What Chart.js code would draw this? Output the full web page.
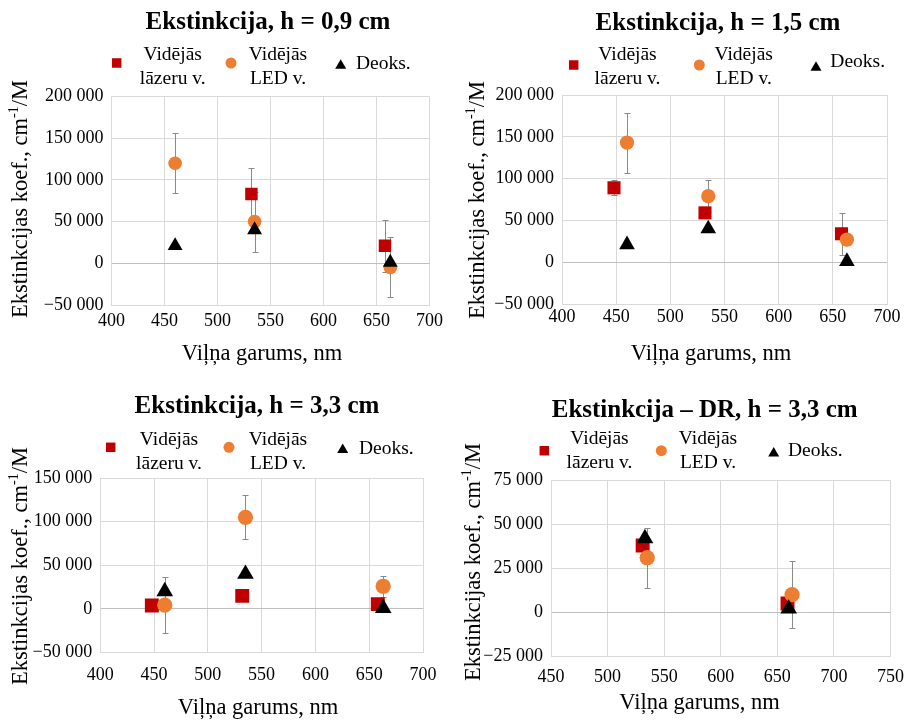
<!DOCTYPE html>
<html>
<head>
<meta charset="utf-8">
<script src="https://cdn.jsdelivr.net/npm/chart.js@4/dist/chart.umd.min.js"></script>
<style>
  html, body { margin: 0; padding: 0; background: #fff; }
  #wrap { position: relative; width: 914px; height: 720px; overflow: hidden; background: #fff; }
  #wrap canvas { position: absolute; }
</style>
</head>
<body>
<div id="wrap">
  <canvas id="p1" width="457" height="372" style="left:0;top:0"></canvas>
  <canvas id="p2" width="457" height="372" style="left:457px;top:0"></canvas>
  <canvas id="p3" width="457" height="348" style="left:0;top:372px"></canvas>
  <canvas id="p4" width="457" height="348" style="left:457px;top:372px"></canvas>
</div>
<script>
// ---- Labels ----
const panelTitles = [
  'Ekstinkcija, h = 0,9 cm',
  'Ekstinkcija, h = 1,5 cm',
  'Ekstinkcija, h = 3,3 cm',
  'Ekstinkcija – DR, h = 3,3 cm'
];
const legendLaser = ['Vidējās', 'lāzeru v.'];
const legendLed = ['Vidējās', 'LED v.'];
const legendDeoks = ['Deoks.'];
const xAxisTitle = 'Viļņa garums, nm';
const yAxisTitle = ['Ekstinkcijas koef., cm', '-1', '/M'];

// ---- h = 0,9 cm ----
const laserX09 = [532, 658];
const laserY09 = [83000, 21000];
const laserErr09 = [31000, 31000];
const ledX09 = [460, 535, 663];
const ledY09 = [120000, 50000, -5000];
const ledErr09 = [36000, 36000, 36000];
const deoksX09 = [460, 535, 663];
const deoksY09 = [21000, 40000, 1000];
const xTicks09 = [400, 450, 500, 550, 600, 650, 700];
const yTicks09 = [-50000, 0, 50000, 100000, 150000, 200000];

// ---- h = 1,5 cm ----
const laserX15 = [448, 532, 658];
const laserY15 = [89000, 59000, 34000];
const laserErr15 = [9000, 5000, 25000];
const ledX15 = [460, 535, 663];
const ledY15 = [143000, 79000, 27000];
const ledErr15 = [36000, 19000, 7000];
const deoksX15 = [460, 535, 663];
const deoksY15 = [21000, 40000, 1000];
const xTicks15 = [400, 450, 500, 550, 600, 650, 700];
const yTicks15 = [-50000, 0, 50000, 100000, 150000, 200000];

// ---- h = 3,3 cm ----
const laserX33 = [448, 532, 658];
const laserY33 = [4000, 15000, 5500];
const laserErr33 = [3000, 3000, 3000];
const ledX33 = [460, 535, 663];
const ledY33 = [4500, 105000, 26000];
const ledErr33 = [32000, 25000, 12000];
const deoksX33 = [460, 535, 663];
const deoksY33 = [20000, 40000, 1000];
const xTicks33 = [400, 450, 500, 550, 600, 650, 700];
const yTicks33 = [-50000, 0, 50000, 100000, 150000];

// ---- DR, h = 3,3 cm ----
const laserXDR = [531, 659];
const laserYDR = [38000, 5000];
const laserErrDR = [3000, 3000];
const ledXDR = [535, 663];
const ledYDR = [31000, 10000];
const ledErrDR = [17000, 19000];
const deoksXDR = [533, 660];
const deoksYDR = [42000, 2000];
const xTicksDR = [450, 500, 550, 600, 650, 700, 750];
const yTicksDR = [-25000, 0, 25000, 50000, 75000];

// ---- Styling ----
const COLORS = { laser: '#c00000', led: '#ed7d31', deoks: '#000000', grid: '#d9d9d9', zero: '#bfbfbf', err: '#8a8a8a', text: '#000000' };
const SERIF = '"Liberation Serif", "Times New Roman", serif';
Chart.defaults.font.family = SERIF;
Chart.defaults.color = COLORS.text;

function pts(xs, ys) { return xs.map((x, i) => ({ x: x, y: ys[i] })); }

function fmtThousands(v) {
  const s = Math.abs(v).toString().replace(/\B(?=(\d{3})+(?!\d))/g, ' ');
  return (v < 0 ? '\u2212' : '') + s;
}

// Vertical error bars with short caps, drawn under the markers
const errorBarPlugin = {
  id: 'errorBars',
  beforeDatasetsDraw(chart) {
    const { ctx } = chart;
    const xs = chart.scales.x, ys = chart.scales.y;
    ctx.save();
    ctx.strokeStyle = COLORS.err;
    ctx.lineWidth = 1;
    chart.data.datasets.forEach(ds => {
      if (!ds.errors) return;
      ds.data.forEach((p, i) => {
        const e = ds.errors[i];
        if (!e) return;
        const px = Math.round(xs.getPixelForValue(p.x)) + 0.5;
        const top = Math.round(ys.getPixelForValue(p.y + e)) + 0.5;
        const bot = Math.round(ys.getPixelForValue(p.y - e)) + 0.5;
        ctx.beginPath();
        ctx.moveTo(px, top); ctx.lineTo(px, bot);
        ctx.moveTo(px - 3, top); ctx.lineTo(px + 3, top);
        ctx.moveTo(px - 3, bot); ctx.lineTo(px + 3, bot);
        ctx.stroke();
      });
    });
    ctx.restore();
  }
};

function marker(ctx, style, x, y, size, color) {
  ctx.fillStyle = color;
  ctx.beginPath();
  if (style === 'rect') {
    ctx.rect(x - size / 2, y - size / 2, size, size);
  } else if (style === 'circle') {
    ctx.arc(x, y, size / 2, 0, Math.PI * 2);
  } else {
    const h = size * 0.87;
    ctx.moveTo(x, y - h / 2);
    ctx.lineTo(x + size / 2, y + h / 2);
    ctx.lineTo(x - size / 2, y + h / 2);
    ctx.closePath();
  }
  ctx.fill();
}

// Panel heading, legend and axis titles
const decorPlugin = {
  id: 'decor',
  afterDraw(chart, args, o) {
    const { ctx } = chart;
    const ox = o.ox, oy = o.oy;
    ctx.save();
    ctx.fillStyle = COLORS.text;
    ctx.textBaseline = 'middle';

    // heading
    ctx.font = 'bold 25px ' + SERIF;
    ctx.textAlign = 'center';
    ctx.fillText(o.title, o.titleX - ox, o.titleY - oy);

    // legend
    const L = o.legend;
    ctx.font = '19.5px ' + SERIF;
    marker(ctx, 'rect', L.sqX - ox, L.mY - oy, 9.5, COLORS.laser);
    marker(ctx, 'circle', L.ciX - ox, L.mY - oy, 11, COLORS.led);
    marker(ctx, 'tri', L.trX - ox, L.mY + 1 - oy, 11, COLORS.deoks);
    ctx.fillStyle = COLORS.text;
    ctx.textAlign = 'center';
    ctx.fillText(legendLaser[0], L.t1X - ox, L.row1 - oy);
    ctx.fillText(legendLaser[1], L.t1X - ox, L.row2 - oy);
    ctx.fillText(legendLed[0], L.t2X - ox, L.row1 - oy);
    ctx.fillText(legendLed[1], L.t2X - ox, L.row2 - oy);
    ctx.textAlign = 'left';
    ctx.fillText(legendDeoks[0], L.t3X - ox, L.t3Y - oy);

    // x axis title
    ctx.font = '22.5px ' + SERIF;
    ctx.textAlign = 'center';
    ctx.fillText(xAxisTitle, o.xTitleX - ox, o.xTitleY - oy);

    // y axis title with superscript
    const big = '22.5px ' + SERIF, small = '14px ' + SERIF;
    ctx.font = big; const w1 = ctx.measureText(yAxisTitle[0]).width;
    ctx.font = small; const w2 = ctx.measureText(yAxisTitle[1]).width;
    ctx.font = big; const w3 = ctx.measureText(yAxisTitle[2]).width;
    const total = w1 + w2 + w3;
    ctx.translate(o.yTitleX - ox, o.yTitleY - oy);
    ctx.rotate(-Math.PI / 2);
    ctx.textAlign = 'left';
    let cx = -total / 2;
    ctx.font = big; ctx.fillText(yAxisTitle[0], cx, 0); cx += w1;
    ctx.font = small; ctx.fillText(yAxisTitle[1], cx, -7); cx += w2;
    ctx.font = big; ctx.fillText(yAxisTitle[2], cx, 0);
    ctx.restore();
  }
};

function makePanel(id, d, box, decor) {
  const W = box.w, H = box.h;
  return new Chart(document.getElementById(id), {
    type: 'scatter',
    data: {
      datasets: [
        { label: legendLaser.join(' '), data: pts(d.laserX, d.laserY), errors: d.laserErr,
          pointStyle: 'rect', pointRadius: box.mk * 8.8, backgroundColor: COLORS.laser, borderColor: COLORS.laser, borderWidth: 0, order: 3 },
        { label: legendLed.join(' '), data: pts(d.ledX, d.ledY), errors: d.ledErr,
          pointStyle: 'circle', pointRadius: box.mk * 6.8, backgroundColor: COLORS.led, borderColor: COLORS.led, borderWidth: 0, order: 2 },
        { label: legendDeoks[0], data: pts(d.deoksX, d.deoksY),
          pointStyle: 'triangle', pointRadius: box.mk * 8.6, backgroundColor: COLORS.deoks, borderColor: COLORS.deoks, borderWidth: 0, order: 1 }
      ]
    },
    options: {
      responsive: false,
      animation: false,
      devicePixelRatio: 1,
      events: [],
      layout: { padding: { top: box.top, right: W - box.right, bottom: 0, left: 0 } },
      plugins: {
        legend: { display: false },
        title: { display: false },
        tooltip: { enabled: false },
        decor: decor
      },
      scales: {
        x: {
          type: 'linear', position: 'bottom',
          min: d.xTicks[0], max: d.xTicks[d.xTicks.length - 1],
          afterFit: s => { s.height = H - box.bottom; },
          ticks: { stepSize: d.xTicks[1] - d.xTicks[0], padding: box.xPad, color: COLORS.text,
                   font: { family: SERIF, size: 18 } },
          grid: { color: COLORS.grid, drawTicks: false, lineWidth: 1 },
          border: { display: true, color: COLORS.grid }
        },
        y: {
          type: 'linear',
          min: d.yTicks[0], max: d.yTicks[d.yTicks.length - 1],
          afterFit: s => { s.width = box.left; },
          ticks: { stepSize: d.yTicks[1] - d.yTicks[0], padding: 8, color: COLORS.text,
                   font: { family: SERIF, size: 18 }, callback: v => fmtThousands(v) },
          grid: { color: c => (c.tick && c.tick.value === 0 ? COLORS.zero : COLORS.grid), drawTicks: false, lineWidth: 1 },
          border: { display: true, color: COLORS.grid }
        }
      }
    },
    plugins: [errorBarPlugin, decorPlugin]
  });
}

makePanel('p1',
  { laserX: laserX09, laserY: laserY09, laserErr: laserErr09, ledX: ledX09, ledY: ledY09, ledErr: ledErr09,
    deoksX: deoksX09, deoksY: deoksY09, xTicks: xTicks09, yTicks: yTicks09 },
  { w: 457, h: 372, left: 111.5, right: 429.5, top: 96.5, bottom: 305, xPad: 5, mk: 1 },
  { ox: 0, oy: 0, title: panelTitles[0], titleX: 268, titleY: 23,
    legend: { sqX: 116.7, ciX: 231, trX: 340.7, mY: 63, t1X: 172.7, t2X: 278, row1: 55, row2: 79, t3X: 356, t3Y: 64 },
    xTitleX: 262, xTitleY: 354, yTitleX: 21, yTitleY: 199 });

makePanel('p2',
  { laserX: laserX15, laserY: laserY15, laserErr: laserErr15, ledX: ledX15, ledY: ledY15, ledErr: ledErr15,
    deoksX: deoksX15, deoksY: deoksY15, xTicks: xTicks15, yTicks: yTicks15 },
  { w: 457, h: 372, left: 105, right: 430, top: 95, bottom: 304, xPad: 2.5, mk: 1.05 },
  { ox: 457, oy: 0, title: panelTitles[1], titleX: 718, titleY: 24,
    legend: { sqX: 573.7, ciX: 699.3, trX: 816, mY: 65, t1X: 627.5, t2X: 743.7, row1: 55, row2: 79, t3X: 830.3, t3Y: 62 },
    xTitleX: 711, xTitleY: 354, yTitleX: 478, yTitleY: 200 });

makePanel('p3',
  { laserX: laserX33, laserY: laserY33, laserErr: laserErr33, ledX: ledX33, ledY: ledY33, ledErr: ledErr33,
    deoksX: deoksX33, deoksY: deoksY33, xTicks: xTicks33, yTicks: yTicks33 },
  { w: 457, h: 348, left: 100.2, right: 423, top: 106, bottom: 280.6, xPad: 11.5, mk: 1.12 },
  { ox: 0, oy: 372, title: panelTitles[2], titleX: 257, titleY: 407,
    legend: { sqX: 110.7, ciX: 229, trX: 342.7, mY: 447.3, t1X: 169, t2X: 278, row1: 440, row2: 464.3, t3X: 359, t3Y: 449.3 },
    xTitleX: 258, xTitleY: 708, yTitleX: 21, yTitleY: 566 });

makePanel('p4',
  { laserX: laserXDR, laserY: laserYDR, laserErr: laserErrDR, ledX: ledXDR, ledY: ledYDR, ledErr: ledErrDR,
    deoksX: deoksXDR, deoksY: deoksYDR, xTicks: xTicksDR, yTicks: yTicksDR },
  { w: 457, h: 348, left: 94, right: 441, top: 108.3, bottom: 284.3, xPad: 10, mk: 1.12 },
  { ox: 457, oy: 372, title: panelTitles[3], titleX: 704.7, titleY: 411,
    legend: { sqX: 544.3, ciX: 661.3, trX: 773.7, mY: 450.7, t1X: 599.5, t2X: 708, row1: 439, row2: 463.3, t3X: 788, t3Y: 450.7 },
    xTitleX: 699.5, xTitleY: 703, yTitleX: 474, yTitleY: 562 });
</script>
</body>
</html>
